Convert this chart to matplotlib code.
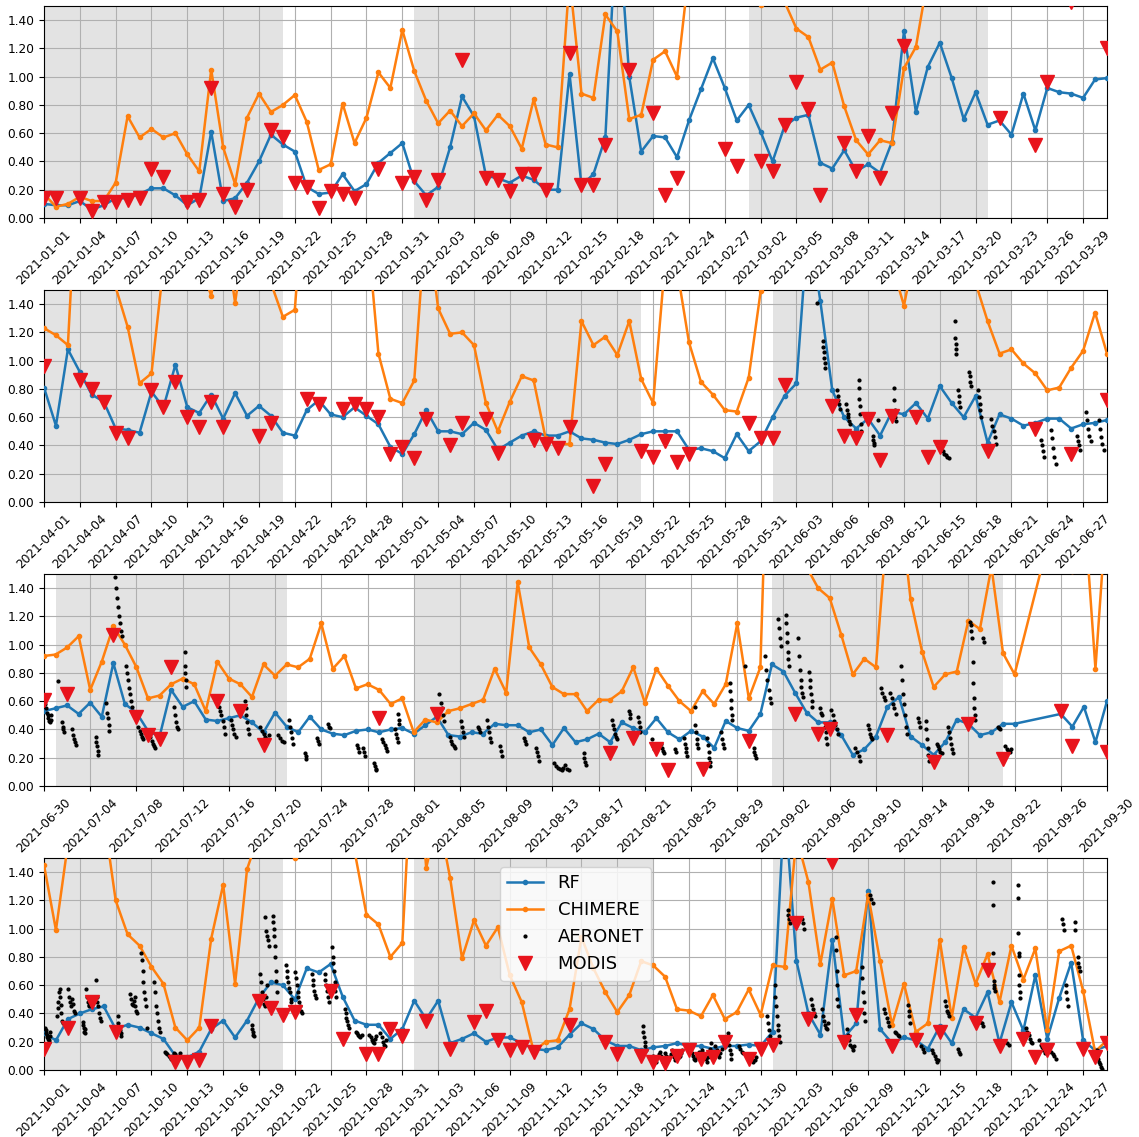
import matplotlib
matplotlib.use("Agg")
import matplotlib.pyplot as plt
import matplotlib.dates as mdates
import matplotlib.ticker as mticker
import numpy as np
import pandas as pd

nan = np.nan

# ---------------- Panel 1 : 2021-01-01 .. 2021-03-31 ----------------
start_q1 = "2021-01-01"
rf_q1 = [0.10, 0.09, 0.09, 0.12, 0.06, 0.09, 0.14, 0.14, 0.17, 0.21,
         0.21, 0.16, 0.09, 0.14, 0.61, 0.12, 0.14, 0.25, 0.40, 0.59,
         0.52, 0.47, 0.22, 0.17, 0.18, 0.31, 0.19, 0.24, 0.39, 0.46, 0.53,
         0.26, 0.16, 0.22, 0.50, 0.86, 0.72, 0.30, 0.28, 0.25, 0.30,
         0.27, 0.20, 0.20, 1.02, 0.23, 0.31, 0.57, 2.20, 1.00, 0.47,
         0.58, 0.57, 0.43, 0.69, 0.91, 1.13, 0.92, 0.69,
         0.80, 0.61, 0.40, 0.65, 0.71, 0.73, 0.39, 0.35, 0.48, 0.33,
         0.38, 0.32, 0.54, 1.32, 0.75, 1.07, 1.24, 0.99, 0.70, 0.89,
         0.66, 0.69, 0.59, 0.88, 0.62, 0.92, 0.89, 0.88, 0.85, 0.98, 0.99]
chim_q1 = [0.17, 0.08, 0.10, 0.15, 0.12, 0.12, 0.25, 0.72, 0.57, 0.63,
           0.57, 0.60, 0.45, 0.33, 1.05, 0.50, 0.24, 0.71, 0.88, 0.75,
           0.80, 0.87, 0.68, 0.34, 0.38, 0.81, 0.53, 0.71, 1.03, 0.92, 1.33,
           1.04, 0.83, 0.67, 0.76, 0.65, 0.74, 0.62, 0.73, 0.65, 0.49,
           0.84, 0.52, 0.50, 1.70, 0.88, 0.85, 1.44, 1.32, 0.70, 0.73,
           1.12, 1.18, 1.00, 1.75, 2.00, 2.20, 2.00, 1.80,
           1.70, 1.51, 1.70, 1.53, 1.34, 1.28, 1.05, 1.10, 0.79, 0.55,
           0.45, 0.55, 0.53, 1.06, 1.21, 1.70, 2.00, 2.20, 2.30, 2.10,
           2.00, 2.20, 2.40, 2.10, 2.30, 2.00, 2.20, 2.40, 2.10, 2.00, 2.20]
modis_q1_dates = ["01-01", "01-02", "01-04", "01-05", "01-06", "01-07", "01-08", "01-09", "01-10", "01-11",
                  "01-13", "01-14", "01-15", "01-16", "01-17", "01-18", "01-20", "01-21", "01-22", "01-23",
                  "01-24", "01-25", "01-26", "01-27", "01-29", "01-31", "02-01", "02-02", "02-03", "02-05",
                  "02-07", "02-08", "02-09", "02-10", "02-11", "02-12", "02-14", "02-15", "02-16", "02-17",
                  "02-19", "02-21", "02-22", "02-23", "02-27", "02-28", "03-02", "03-03", "03-04", "03-05",
                  "03-06", "03-07", "03-09", "03-10", "03-11", "03-12", "03-13", "03-14", "03-22", "03-25",
                  "03-26", "03-28", "03-31"]
modis_q1_vals = [0.14, 0.14, 0.14, 0.05, 0.11, 0.11, 0.13, 0.14, 0.35, 0.29,
                 0.11, 0.13, 0.92, 0.17, 0.08, 0.20, 0.62, 0.57, 0.25, 0.22,
                 0.07, 0.19, 0.17, 0.14, 0.35, 0.25, 0.29, 0.13, 0.27, 1.12,
                 0.28, 0.27, 0.19, 0.31, 0.31, 0.20, 1.17, 0.23, 0.23, 0.52,
                 1.05, 0.74, 0.16, 0.28, 0.49, 0.37, 0.40, 0.33, 0.66, 0.96,
                 0.77, 0.16, 0.53, 0.33, 0.58, 0.28, 0.74, 1.22, 0.71, 0.52,
                 0.96, 1.53, 1.20]

# ---------------- Panel 2 : 2021-04-01 .. 2021-06-29 ----------------
start_q2 = "2021-04-01"
rf_q2 = [0.81, 0.54, 1.08, 0.92, 0.76, 0.71, 0.52, 0.51, 0.49, 0.78,
         0.67, 0.97, 0.67, 0.63, 0.76, 0.59, 0.77, 0.61, 0.68, 0.61,
         0.49, 0.47, 0.65, 0.72, 0.62, 0.60, 0.67, 0.61, 0.55, 0.39,
         0.34, 0.48, 0.65, 0.50, 0.50, 0.48, 0.56, 0.51, 0.37, 0.42,
         0.47, 0.50, 0.47, 0.47, 0.50, 0.45, 0.44, 0.42, 0.41, 0.44,
         0.48, 0.50, 0.50, 0.50, 0.37, 0.38, 0.36, 0.31, 0.48, 0.36, 0.43,
         0.60, 0.75, 0.84, 2.00, 1.42, 0.79, 0.60, 0.52, 0.59, 0.47,
         0.64, 0.62, 0.70, 0.59, 0.82, 0.70, 0.60, 0.75, 0.42, 0.62,
         0.59, 0.54, 0.56, 0.59, 0.59, 0.52, 0.55, 0.56, 0.58]
chim_q2 = [1.23, 1.18, 1.11, 2.70, 2.80, 2.00, 1.52, 1.24, 0.84, 0.91,
           1.67, 2.20, 2.00, 1.70, 1.46, 2.00, 1.41, 2.00, 2.00, 1.55,
           1.31, 1.36, 2.50, 2.50, 2.60, 2.40, 2.20, 2.00, 1.05, 0.73,
           0.70, 0.86, 2.05, 1.37, 1.19, 1.20, 1.11, 0.70, 0.50, 0.71,
           0.89, 0.86, 0.45, 0.41, 0.41, 1.28, 1.11, 1.17, 1.04, 1.28,
           0.87, 0.70, 1.70, 1.65, 1.13, 0.85, 0.76, 0.65, 0.64, 0.88, 1.49,
           2.00, 2.50, 2.80, 3.00, 2.60, 2.20, 2.00, 1.90, 1.80, 1.70,
           1.68, 1.39, 1.81, 2.00, 2.20, 2.10, 1.90, 1.55, 1.28, 1.05,
           1.08, 0.98, 0.91, 0.79, 0.81, 0.95, 1.07, 1.34, 1.05]
modis_q2_dates = ["04-01", "04-04", "04-05", "04-06", "04-07", "04-08", "04-10", "04-11", "04-12", "04-13",
                  "04-14", "04-15", "04-16", "04-19", "04-20", "04-23", "04-24", "04-26", "04-27", "04-28",
                  "04-29", "04-30", "05-01", "05-02", "05-03", "05-05", "05-06", "05-08", "05-09", "05-12",
                  "05-13", "05-14", "05-15", "05-17", "05-18", "05-21", "05-22", "05-23", "05-24", "05-25",
                  "05-30", "05-31", "06-01", "06-02", "06-06", "06-07", "06-08", "06-09", "06-10", "06-11",
                  "06-13", "06-14", "06-15", "06-19", "06-23", "06-26", "06-29"]
modis_q2_vals = [0.96, 0.86, 0.80, 0.71, 0.49, 0.45, 0.79, 0.67, 0.85, 0.60,
                 0.53, 0.71, 0.53, 0.47, 0.56, 0.73, 0.69, 0.66, 0.69, 0.66,
                 0.60, 0.34, 0.39, 0.31, 0.59, 0.40, 0.56, 0.59, 0.35, 0.44,
                 0.41, 0.38, 0.53, 0.11, 0.27, 0.36, 0.32, 0.43, 0.28, 0.34,
                 0.56, 0.45, 0.45, 0.83, 0.68, 0.47, 0.45, 0.59, 0.30, 0.61,
                 0.60, 0.32, 0.39, 0.36, 0.52, 0.34, 0.72]

# ---------------- Panel 3 : 2021-06-30 .. 2021-09-30 ----------------
start_q3 = "2021-06-30"
rf_q3 = [0.53, 0.55, 0.57, 0.51, 0.59, 0.49, 0.87, 0.58, 0.52, 0.39,
         0.35, 0.68, 0.56, 0.60, 0.47, 0.46, 0.48, 0.50, 0.45, 0.38,
         0.52, 0.42, 0.38, 0.49, 0.40, 0.37, 0.36, 0.39, 0.40, 0.38,
         0.40, 0.41, 0.37, 0.43, 0.49, 0.36, 0.35, 0.38, 0.37, 0.44,
         0.43, 0.43, 0.38, 0.40, 0.29, 0.41, 0.31, 0.33, 0.37, 0.31,
         0.45, 0.41, 0.38, 0.48, 0.38, 0.33, 0.39, 0.35, 0.27, 0.46,
         0.41, 0.39, 0.51, 0.86, 0.81, 0.66, 0.52, 0.45, 0.45, 0.36,
         0.22, 0.26, 0.35, 0.56, 0.63, 0.35, 0.29, 0.22, 0.31, 0.47,
         0.44, 0.36, 0.38, 0.44, 0.44, nan, nan, nan, 0.51, 0.42,
         0.56, 0.31, 0.60]
chim_q3 = [0.92, 0.93, 0.98, 1.06, 0.68, 0.88, 1.13, 1.00, 0.84, 0.62,
           0.64, 0.72, 0.76, 0.72, 0.53, 0.88, 0.76, 0.72, 0.63, 0.86,
           0.78, 0.86, 0.84, 0.90, 1.15, 0.83, 0.92, 0.69, 0.72, 0.68,
           0.58, 0.62, 0.38, 0.47, 0.45, 0.53, 0.55, 0.58, 0.61, 0.83,
           0.66, 1.44, 0.98, 0.86, 0.70, 0.65, 0.65, 0.53, 0.61, 0.61,
           0.67, 0.84, 0.59, 0.83, 0.71, 0.60, 0.53, 0.67, 0.58, 0.72,
           1.15, 0.62, 0.84, 3.50, 3.00, 2.00, 1.55, 1.40, 1.33, 1.07,
           0.79, 0.90, 0.84, 1.87, 2.06, 1.32, 0.95, 0.70, 0.79, 0.81,
           1.17, 1.11, 1.55, 0.94, 0.79, nan, nan, nan, 2.08, 1.52,
           2.00, 0.83, 2.00]
modis_q3_dates = ["06-30", "07-02", "07-06", "07-08", "07-09", "07-10", "07-11", "07-15", "07-17", "07-19",
                  "07-29", "08-03", "08-18", "08-20", "08-22", "08-23", "08-26", "08-30", "09-03", "09-05",
                  "09-06", "09-11", "09-15", "09-18", "09-21", "09-26", "09-27", "09-30"]
modis_q3_vals = [0.61, 0.65, 1.07, 0.49, 0.36, 0.33, 0.84, 0.60, 0.53, 0.29,
                 0.48, 0.51, 0.23, 0.34, 0.26, 0.11, 0.12, 0.32, 0.51, 0.37,
                 0.40, 0.36, 0.17, 0.44, 0.19, 0.53, 0.28, 0.24]

# ---------------- Panel 4 : 2021-10-01 .. 2021-12-29 ----------------
start_q4 = "2021-10-01"
rf_q4 = [0.26, 0.21, 0.36, 0.40, 0.43, 0.45, 0.29, 0.32, 0.30, 0.26,
         0.22, 0.10, 0.09, 0.13, 0.29, 0.35, 0.23, 0.35, 0.51, 0.62,
         0.60, 0.50, 0.72, 0.69, 0.75, 0.52, 0.35, 0.32, 0.32, 0.22, 0.29,
         0.49, 0.36, 0.49, 0.19, 0.22, 0.26, 0.20, 0.23, 0.23, 0.19,
         0.15, 0.14, 0.16, 0.25, 0.33, 0.29, 0.21, 0.17, 0.17, 0.14,
         0.16, 0.17, 0.19, 0.17, 0.17, 0.15, 0.17, 0.17, 0.18, 0.17,
         0.27, 1.90, 0.77, 0.40, 0.25, 0.92, 0.23, 0.33, 1.27, 0.29,
         0.19, 0.23, 0.21, 0.15, 0.31, 0.19, 0.43, 0.37, 0.55, 0.19,
         0.48, 0.28, 0.67, 0.22, 0.51, 0.76, 0.21, 0.14, 0.17]
chim_q4 = [1.45, 0.99, 1.60, 1.90, 2.00, 1.80, 1.20, 0.96, 0.88, 0.73,
           0.61, 0.30, 0.21, 0.30, 0.93, 1.31, 0.61, 1.42, 1.67, 1.90,
           1.70, 1.50, 1.90, 2.20, 2.00, 1.80, 1.55, 1.10, 1.03, 0.80, 0.90,
           2.50, 1.43, 1.80, 1.36, 0.79, 1.06, 0.88, 1.01, 0.67, 0.48,
           0.13, 0.20, 0.21, 0.43, 0.94, 0.72, 0.55, 0.41, 0.53, 0.77,
           0.74, 0.66, 0.43, 0.42, 0.38, 0.53, 0.36, 0.41, 0.57, 0.39,
           0.74, 0.73, 1.65, 1.33, 0.75, 1.21, 0.67, 0.70, 1.24, 0.77,
           0.32, 0.61, 0.27, 0.33, 0.92, 0.37, 0.87, 0.61, 0.82, 0.48,
           0.88, 0.64, 0.86, 0.28, 0.84, 0.88, 0.56, 0.13, 0.21]
modis_q4_dates = ["10-01", "10-03", "10-05", "10-07", "10-12", "10-13", "10-14", "10-15", "10-19", "10-20",
                  "10-21", "10-22", "10-25", "10-26", "10-28", "10-29", "10-30", "10-31", "11-02", "11-04",
                  "11-06", "11-07", "11-08", "11-09", "11-10", "11-11", "11-14", "11-17", "11-18", "11-20",
                  "11-21", "11-22", "11-23", "11-24", "11-25", "11-26", "11-27", "11-29", "11-30", "12-01",
                  "12-03", "12-04", "12-06", "12-07", "12-08", "12-11", "12-13", "12-15", "12-18", "12-19",
                  "12-20", "12-22", "12-23", "12-24", "12-27", "12-28", "12-29"]
modis_q4_vals = [0.15, 0.30, 0.48, 0.27, 0.06, 0.06, 0.07, 0.31, 0.49, 0.44,
                 0.39, 0.41, 0.56, 0.22, 0.11, 0.11, 0.29, 0.24, 0.35, 0.15,
                 0.34, 0.42, 0.21, 0.14, 0.16, 0.13, 0.32, 0.20, 0.11, 0.10,
                 0.06, 0.05, 0.10, 0.14, 0.08, 0.09, 0.20, 0.08, 0.15, 0.18,
                 1.04, 0.36, 1.47, 0.20, 0.39, 0.17, 0.21, 0.27, 0.33, 0.71,
                 0.17, 0.22, 0.09, 0.14, 0.15, 0.09, 0.19]

# ---------------- AERONET sub-daily observations ----------------
# (first observation time, cadence in hours, AOD values)
aeronet_obs = [
    # June
    ("2021-06-04 17:00", 1.0, [1.41]),
    ("2021-06-05 05:00", 1.0, [1.14, 1.10, 1.06, 1.02, 0.98, 0.95]),
    ("2021-06-06 10:00", 1.2, [0.79, 0.75, 0.72, 0.69, 0.66]),
    ("2021-06-07 04:00", 1.5, [0.69, 0.65, 0.62, 0.60, 0.57, 0.55]),
    ("2021-06-08 05:00", 0.8, [0.86, 0.81, 0.73, 0.68, 0.62, 0.55, 0.50]),
    ("2021-06-09 09:00", 1.2, [0.47, 0.44, 0.42, 0.40]),
    ("2021-06-09 20:00", 1.0, [0.58]),
    ("2021-06-11 04:00", 1.0, [0.81, 0.72, 0.65, 0.60, 0.57]),
    ("2021-06-15 00:00", 3.0, [0.40, 0.38, 0.36, 0.34, 0.33, 0.32, 0.31]),
    ("2021-06-16 06:00", 0.8, [1.28, 1.16, 1.12, 1.08, 1.05]),
    ("2021-06-16 13:00", 1.0, [0.79, 0.75, 0.71, 0.67]),
    ("2021-06-17 11:00", 1.0, [0.92, 0.89, 0.85, 0.82]),
    ("2021-06-18 05:00", 1.5, [0.79, 0.74, 0.69, 0.65, 0.60]),
    ("2021-06-19 07:00", 2.5, [0.59, 0.54, 0.50, 0.46, 0.41]),
    ("2021-06-23 12:00", 2.0, [0.44, 0.40, 0.36, 0.32]),
    ("2021-06-24 07:00", 2.5, [0.51, 0.45, 0.38, 0.32, 0.27]),
    ("2021-06-26 11:00", 2.5, [0.47, 0.43, 0.40, 0.37]),
    ("2021-06-27 05:00", 2.5, [0.64, 0.58, 0.52, 0.47, 0.43]),
    ("2021-06-28 07:00", 2.5, [0.58, 0.52, 0.46, 0.41, 0.37]),
    # July - September
    ("2021-06-30 01:00", 1.6, [0.62, 0.58, 0.55, 0.52, 0.50, 0.48, 0.46, 0.45, 0.47, 0.50]),
    ("2021-07-01 06:00", 1.0, [0.74]),
    ("2021-07-01 14:00", 1.2, [0.45, 0.42, 0.40, 0.38]),
    ("2021-07-02 11:00", 2.0, [0.40, 0.36, 0.33, 0.31, 0.29]),
    ("2021-07-04 11:00", 1.5, [0.35, 0.31, 0.28, 0.25, 0.22]),
    ("2021-07-05 08:00", 2.0, [0.59, 0.52, 0.48, 0.43, 0.39]),
    ("2021-07-06 04:00", 2.0, [1.48, 1.40, 1.33, 1.27, 1.20, 1.15, 1.10, 1.06]),
    ("2021-07-07 03:00", 1.8, [0.85, 0.80, 0.75, 0.69, 0.65, 0.60, 0.56]),
    ("2021-07-08 04:00", 2.5, [0.42, 0.39, 0.37, 0.35, 0.33]),
    ("2021-07-09 05:00", 2.5, [0.35, 0.32, 0.30, 0.28, 0.27]),
    ("2021-07-11 07:00", 2.0, [0.56, 0.50, 0.45, 0.42, 0.40]),
    ("2021-07-12 04:00", 0.8, [0.95, 0.85, 0.80, 0.75, 0.70]),
    ("2021-07-15 03:00", 2.0, [0.56, 0.53, 0.50]),
    ("2021-07-15 11:00", 2.0, [0.46, 0.42, 0.37]),
    ("2021-07-16 05:00", 2.2, [0.47, 0.43, 0.40, 0.37, 0.35]),
    ("2021-07-17 09:00", 1.6, [0.60, 0.55, 0.50, 0.45, 0.40, 0.37]),
    ("2021-07-18 16:00", 4.0, [0.42, 0.39, 0.37, 0.35, 0.33, 0.36]),
    ("2021-07-20 06:00", 4.0, [0.36, 0.34, 0.32, 0.31]),
    ("2021-07-21 05:00", 2.0, [0.47, 0.42, 0.38, 0.34, 0.30]),
    ("2021-07-22 14:00", 1.5, [0.23, 0.21, 0.19]),
    ("2021-07-23 15:00", 2.0, [0.34, 0.32, 0.30]),
    ("2021-07-24 14:00", 2.0, [0.44, 0.42, 0.41]),
    ("2021-07-27 03:00", 2.0, [0.29, 0.27, 0.24]),
    ("2021-07-27 15:00", 2.0, [0.27, 0.24, 0.21]),
    ("2021-07-28 14:00", 1.3, [0.16, 0.14, 0.12, 0.11]),
    ("2021-07-29 06:00", 2.7, [0.33, 0.31, 0.29, 0.27, 0.25]),
    ("2021-07-30 09:00", 2.3, [0.40, 0.37, 0.34, 0.31]),
    ("2021-07-30 15:00", 1.5, [0.51, 0.47, 0.44]),
    ("2021-08-03 05:00", 2.7, [0.65, 0.59, 0.55, 0.50, 0.46]),
    ("2021-08-04 03:00", 2.7, [0.35, 0.32, 0.30, 0.28, 0.27]),
    ("2021-08-05 03:00", 2.0, [0.46, 0.42, 0.38, 0.35]),
    ("2021-08-06 14:00", 1.5, [0.42, 0.40, 0.38]),
    ("2021-08-07 09:00", 2.0, [0.47, 0.42, 0.38, 0.34, 0.31]),
    ("2021-08-08 11:00", 2.0, [0.28, 0.25, 0.21]),
    ("2021-08-10 14:00", 2.0, [0.34, 0.32, 0.30]),
    ("2021-08-11 14:00", 2.0, [0.27, 0.24, 0.21, 0.18]),
    ("2021-08-13 03:00", 4.0, [0.16, 0.14, 0.13, 0.12, 0.11, 0.13, 0.15, 0.12, 0.11]),
    ("2021-08-15 17:00", 1.5, [0.23, 0.20, 0.17, 0.15]),
    ("2021-08-18 04:00", 2.0, [0.47, 0.43, 0.40, 0.37, 0.35, 0.33]),
    ("2021-08-19 15:00", 1.5, [0.53, 0.51, 0.48]),
    ("2021-08-20 10:00", 1.5, [0.49, 0.45, 0.42, 0.38]),
    ("2021-08-21 14:00", 2.0, [0.33, 0.30, 0.28, 0.26]),
    ("2021-08-22 10:00", 2.0, [0.30, 0.27, 0.25, 0.23]),
    ("2021-08-23 15:00", 2.0, [0.26, 0.24]),
    ("2021-08-24 10:00", 1.5, [0.34, 0.30, 0.27, 0.24, 0.21]),
    ("2021-08-25 08:00", 1.2, [0.56, 0.43, 0.38, 0.33, 0.30, 0.27]),
    ("2021-08-26 10:00", 1.2, [0.34, 0.29, 0.24, 0.20, 0.17, 0.14]),
    ("2021-08-27 15:00", 1.5, [0.38, 0.33, 0.30, 0.27]),
    ("2021-08-28 08:00", 1.2, [0.73, 0.67, 0.61, 0.55, 0.50, 0.47]),
    ("2021-08-29 17:00", 1.0, [0.85]),
    ("2021-08-30 10:00", 1.5, [0.27, 0.24, 0.22, 0.20]),
    ("2021-08-31 10:00", 2.4, [0.92, 0.82, 0.75, 0.68, 0.62, 0.59]),
    ("2021-09-01 12:00", 2.3, [1.18, 1.12, 1.05, 0.99]),
    ("2021-09-02 05:00", 1.0, [1.21, 1.15, 1.08, 1.02, 0.95, 0.90, 0.85]),
    ("2021-09-03 06:00", 1.8, [1.05, 0.92, 0.82, 0.75, 0.70, 0.66, 0.63]),
    ("2021-09-04 05:00", 1.4, [0.81, 0.75, 0.70, 0.65, 0.60, 0.56]),
    ("2021-09-05 03:00", 3.0, [0.55, 0.52, 0.50]),
    ("2021-09-05 15:00", 1.0, [0.42, 0.38, 0.34, 0.30]),
    ("2021-09-06 03:00", 3.0, [0.54, 0.50, 0.46, 0.43, 0.40, 0.37]),
    ("2021-09-08 05:00", 3.5, [0.27, 0.24, 0.21, 0.18]),
    ("2021-09-09 08:00", 2.0, [0.43, 0.40, 0.37, 0.35, 0.33]),
    ("2021-09-10 11:00", 2.5, [0.69, 0.66, 0.63, 0.61]),
    ("2021-09-11 06:00", 2.7, [0.66, 0.62, 0.58, 0.55, 0.51]),
    ("2021-09-12 05:00", 2.0, [0.85, 0.75, 0.65, 0.58, 0.50, 0.42, 0.37]),
    ("2021-09-13 16:00", 2.0, [0.48, 0.45, 0.42]),
    ("2021-09-14 07:00", 1.5, [0.46, 0.40, 0.33, 0.27, 0.22, 0.18]),
    ("2021-09-15 06:00", 2.7, [0.30, 0.28, 0.26, 0.24, 0.23]),
    ("2021-09-16 06:00", 2.2, [0.42, 0.38, 0.34, 0.30, 0.26, 0.23]),
    ("2021-09-18 04:00", 1.2, [1.16, 1.14, 1.10, 1.05, 0.88, 0.73, 0.62, 0.55, 0.50, 0.47]),
    ("2021-09-19 07:00", 1.5, [1.05, 1.02]),
    ("2021-09-20 13:00", 2.0, [0.42, 0.41, 0.40]),
    ("2021-09-21 05:00", 3.0, [0.28, 0.26, 0.25, 0.24, 0.26]),
    # October - December
    ("2021-10-01 02:00", 1.2, [0.30, 0.28, 0.26, 0.25, 0.23, 0.22, 0.21, 0.20, 0.24, 0.27]),
    ("2021-10-02 02:00", 1.3, [0.38, 0.44, 0.48, 0.55, 0.57, 0.52, 0.46, 0.40, 0.35, 0.33]),
    ("2021-10-03 01:00", 2.0, [0.57, 0.52, 0.48, 0.45, 0.50, 0.47, 0.42, 0.40]),
    ("2021-10-04 06:00", 1.0, [0.34, 0.32, 0.30, 0.27, 0.26, 0.29]),
    ("2021-10-04 13:00", 1.5, [0.57, 0.52, 0.48, 0.46, 0.45]),
    ("2021-10-05 08:00", 1.6, [0.64, 0.52, 0.48, 0.45, 0.40, 0.37, 0.35]),
    ("2021-10-07 04:00", 1.5, [0.38, 0.33, 0.30, 0.28, 0.26, 0.24]),
    ("2021-10-08 05:00", 1.8, [0.54, 0.50, 0.47, 0.46, 0.49, 0.52, 0.45, 0.42, 0.40]),
    ("2021-10-09 03:00", 1.6, [0.83, 0.78, 0.70, 0.62, 0.55, 0.50, 0.45, 0.30]),
    ("2021-10-10 06:00", 2.0, [0.62, 0.55, 0.45, 0.40, 0.35, 0.30, 0.27]),
    ("2021-10-11 03:00", 2.5, [0.13, 0.12, 0.11, 0.10, 0.09, 0.08, 0.10, 0.12]),
    ("2021-10-12 00:00", 2.5, [0.11, 0.09, 0.08, 0.10, 0.12, 0.09]),
    ("2021-10-18 09:00", 1.2, [0.32, 0.29, 0.27, 0.25, 0.24]),
    ("2021-10-19 02:00", 2.0, [0.68, 0.62, 0.55, 0.50, 0.47, 0.45, 0.52, 0.60]),
    ("2021-10-19 12:00", 1.8, [1.08, 0.98, 0.95, 0.92, 0.88]),
    ("2021-10-20 04:00", 0.9, [1.09, 1.05, 1.00, 0.95, 0.88, 0.80, 0.70, 0.63, 0.55]),
    ("2021-10-21 06:00", 1.6, [0.74, 0.70, 0.66, 0.62, 0.58, 0.55, 0.50, 0.48]),
    ("2021-10-22 00:00", 1.8, [0.69, 0.65, 0.60, 0.55, 0.52, 0.48, 0.45, 0.42, 0.40]),
    ("2021-10-23 10:00", 1.6, [0.68, 0.64, 0.60, 0.56, 0.53, 0.51]),
    ("2021-10-24 12:00", 1.6, [0.68, 0.64, 0.60, 0.56, 0.52, 0.48]),
    ("2021-10-25 03:00", 1.2, [0.87, 0.80, 0.76, 0.70, 0.62, 0.56, 0.52]),
    ("2021-10-26 05:00", 1.4, [0.43, 0.40, 0.37, 0.35, 0.32, 0.30]),
    ("2021-10-27 03:00", 2.2, [0.27, 0.26, 0.25, 0.24, 0.23, 0.25]),
    ("2021-10-28 06:00", 2.3, [0.25, 0.23, 0.21, 0.20, 0.19, 0.22, 0.24]),
    ("2021-10-29 04:00", 2.2, [0.26, 0.23, 0.20, 0.18, 0.17, 0.21]),
    ("2021-11-20 03:00", 1.4, [0.31, 0.27, 0.23, 0.20, 0.17, 0.14]),
    ("2021-11-21 00:00", 2.2, [0.10, 0.08, 0.07, 0.06, 0.09, 0.11, 0.13, 0.10, 0.08, 0.06]),
    ("2021-11-22 00:00", 2.2, [0.12, 0.10, 0.08, 0.07, 0.09, 0.11, 0.14, 0.12, 0.09, 0.07]),
    ("2021-11-23 00:00", 2.0, [0.13, 0.11, 0.09, 0.10, 0.12, 0.14]),
    ("2021-11-24 03:00", 2.5, [0.15, 0.12, 0.10, 0.08, 0.07, 0.09, 0.11, 0.13]),
    ("2021-11-25 03:00", 2.2, [0.14, 0.12, 0.10, 0.08, 0.06, 0.09, 0.12, 0.15, 0.19]),
    ("2021-11-26 05:00", 2.5, [0.17, 0.14, 0.11, 0.09, 0.12, 0.15]),
    ("2021-11-27 06:00", 1.4, [0.26, 0.22, 0.18, 0.14, 0.11, 0.08]),
    ("2021-11-28 05:00", 2.3, [0.17, 0.15, 0.13, 0.12]),
    ("2021-11-29 03:00", 2.2, [0.10, 0.08, 0.07, 0.06, 0.07, 0.09]),
    ("2021-11-30 12:00", 2.0, [0.38, 0.33, 0.28, 0.24, 0.21, 0.19, 0.17]),
    ("2021-12-01 04:00", 1.5, [0.60, 0.52, 0.45, 0.38, 0.32, 0.28, 0.24, 0.20]),
    ("2021-12-02 06:00", 2.0, [1.13, 1.10, 1.07, 1.04]),
    ("2021-12-03 11:00", 2.0, [1.07, 1.04, 1.00]),
    ("2021-12-04 06:00", 1.7, [0.50, 0.46, 0.43, 0.40, 0.38]),
    ("2021-12-05 04:00", 1.8, [0.43, 0.38, 0.35, 0.32, 0.30, 0.29, 0.33]),
    ("2021-12-06 07:00", 0.8, [0.94, 0.85, 0.70, 0.60, 0.50, 0.45]),
    ("2021-12-07 05:00", 2.5, [0.29, 0.25, 0.21, 0.18, 0.16, 0.14, 0.17]),
    ("2021-12-08 11:00", 1.4, [0.73, 0.65, 0.55, 0.48, 0.40, 0.35]),
    ("2021-12-09 04:00", 2.5, [1.24, 1.21, 1.18]),
    ("2021-12-10 08:00", 2.7, [0.43, 0.40, 0.37, 0.34, 0.31]),
    ("2021-12-11 06:00", 2.7, [0.27, 0.26, 0.25, 0.24]),
    ("2021-12-12 08:00", 1.3, [0.46, 0.42, 0.38, 0.33]),
    ("2021-12-13 10:00", 3.5, [0.17, 0.15, 0.13]),
    ("2021-12-14 09:00", 2.2, [0.14, 0.12, 0.10, 0.08, 0.06, 0.07]),
    ("2021-12-15 11:00", 1.7, [0.49, 0.45, 0.42, 0.40, 0.38]),
    ("2021-12-16 12:00", 2.0, [0.15, 0.13, 0.11]),
    ("2021-12-18 05:00", 3.5, [0.36, 0.34, 0.33, 0.31]),
    ("2021-12-19 10:00", 0.7, [1.33, 1.17, 0.83, 0.63, 0.60, 0.58, 0.56]),
    ("2021-12-20 10:00", 5.0, [0.20, 0.19, 0.18]),
    ("2021-12-21 13:00", 0.5, [1.31, 1.22, 0.97, 0.83, 0.81, 0.67, 0.60, 0.55, 0.51]),
    ("2021-12-22 06:00", 2.2, [0.30, 0.27, 0.25, 0.22, 0.20, 0.19]),
    ("2021-12-23 08:00", 2.7, [0.21, 0.18, 0.16, 0.14, 0.12]),
    ("2021-12-24 07:00", 3.5, [0.13, 0.11, 0.10, 0.08]),
    ("2021-12-25 06:00", 1.5, [1.07, 1.03, 0.99]),
    ("2021-12-25 13:00", 1.5, [0.60, 0.55, 0.50, 0.45]),
    ("2021-12-26 07:00", 1.5, [1.05, 0.99]),
    ("2021-12-26 13:00", 1.5, [0.80, 0.76, 0.73, 0.70]),
    ("2021-12-28 03:00", 1.8, [0.14, 0.11, 0.08, 0.06, 0.04, 0.02, 0.01]),
]

# Shaded periods (first 20 days of each month)
shade_periods = [("2021-%02d-01" % m, "2021-%02d-21" % m) for m in range(1, 13)]

tick_steps = [3, 3, 4, 3]

panels = [
    (start_q1, rf_q1, chim_q1, modis_q1_dates, modis_q1_vals),
    (start_q2, rf_q2, chim_q2, modis_q2_dates, modis_q2_vals),
    (start_q3, rf_q3, chim_q3, modis_q3_dates, modis_q3_vals),
    (start_q4, rf_q4, chim_q4, modis_q4_dates, modis_q4_vals),
]

# expand AERONET observations
aer_t, aer_v = [], []
for t0, step, vals in aeronet_obs:
    base = pd.Timestamp(t0)
    for i, v in enumerate(vals):
        aer_t.append(base + pd.Timedelta(hours=step * i))
        aer_v.append(v)
aer_t = pd.DatetimeIndex(aer_t)
aer_v = np.array(aer_v)

fig = plt.figure(figsize=(11.39, 11.37), dpi=100)
axes = [fig.add_axes([44 / 1139, 1 - (218 + 284 * k) / 1137, 1063 / 1139, 212 / 1137]) for k in range(4)]

for k, (ax, (start, rf, ch, md, mv)) in enumerate(zip(axes, panels)):
    dates = pd.date_range(start, periods=len(rf), freq="D")
    rf = np.array(rf, float)
    ch = np.array(ch, float)
    for a, b in shade_periods:
        ax.axvspan(pd.Timestamp(a), pd.Timestamp(b), color="grey", alpha=0.22, lw=0, zorder=0)
    m1 = ~np.isnan(rf)
    ax.plot(dates[m1], rf[m1], "-o", color="#1f77b4", lw=1.8, ms=3, label="RF", zorder=3)
    m2 = ~np.isnan(ch)
    ax.plot(dates[m2], ch[m2], "-o", color="#ff7f0e", lw=1.8, ms=3, label="CHIMERE", zorder=3)
    sel = (aer_t >= dates[0]) & (aer_t <= dates[-1] + pd.Timedelta(days=1))
    ax.plot(aer_t[sel], aer_v[sel], ".", color="black", ms=4, ls="none", label="AERONET", zorder=4)
    mdates_list = pd.to_datetime(["2021-" + d for d in md])
    ax.plot(mdates_list, mv, "v", color="#e8141c", ms=10.5, ls="none", label="MODIS", zorder=5)

    ax.set_xlim(dates[0], dates[-1])
    ax.set_ylim(0, 1.5)
    ax.set_xticks(dates[::tick_steps[k]])
    ax.xaxis.set_major_formatter(mdates.DateFormatter("%Y-%m-%d"))
    ax.set_yticks(np.arange(0, 1.41, 0.2))
    ax.yaxis.set_major_formatter(mticker.FormatStrFormatter("%.2f"))
    ax.tick_params(axis="both", labelsize=8.7)
    for lab in ax.get_xticklabels():
        lab.set_rotation(45)
    ax.grid(True, color="#b0b0b0", lw=0.8)

axes[3].legend(loc="upper center", fontsize=13)

fig.savefig("out.png", dpi=100)
